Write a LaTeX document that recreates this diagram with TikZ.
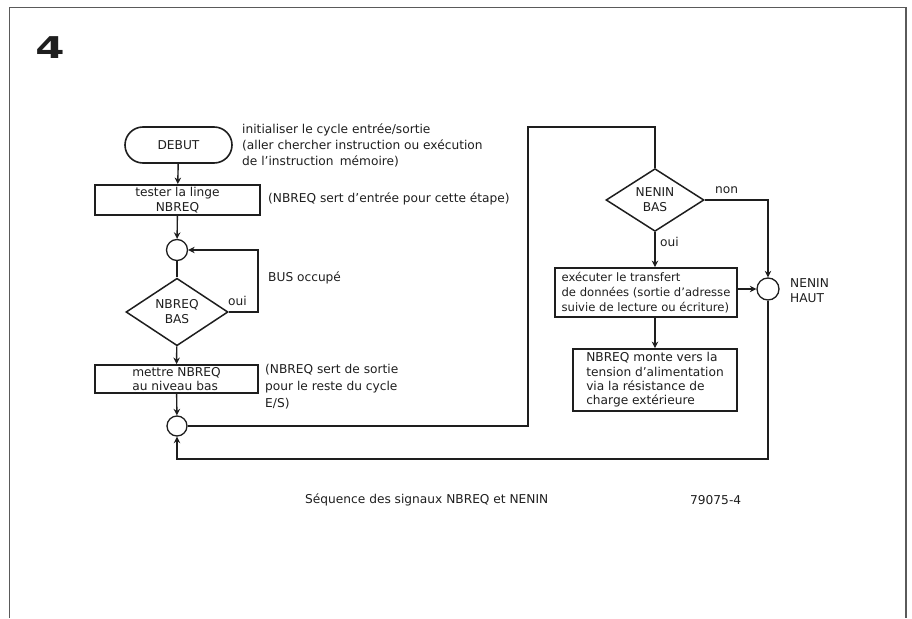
\documentclass[tikz,border=0pt]{standalone}
\usepackage{fontspec}
\setmainfont{DejaVu Sans}
\usetikzlibrary{arrows.meta,shapes.geometric,shapes.misc}
\definecolor{ink}{HTML}{1E1E1E}
\definecolor{framegray}{HTML}{5A5A5A}
\tikzset{
  txt/.style={font=\fontsize{12.2}{15}\selectfont, text=ink, inner sep=0pt},
  boxed/.style={draw=ink, line width=1.9pt, rectangle, inner sep=0pt, txt},
  startstop/.style={draw=ink, line width=1.6pt, rounded rectangle, inner sep=0pt, txt},
  junction/.style={draw=ink, line width=1.3pt, circle, inner sep=0pt},
  decision/.style={draw=ink, line width=1.5pt, diamond, inner sep=0pt, txt, align=center},
  link/.style={draw=ink, line width=1.4pt},
  arr/.style={link, -{Stealth[length=6.5pt,width=6.5pt]}},
  framed/.style={draw=framegray, line width=1.6pt}
}
\begin{document}
\begin{tikzpicture}[x=1pt,y=-1pt]
\useasboundingbox (0,0) rectangle (912,618);
\draw[framed] (9.5,618) -- (9.5,7.5) -- (906,7.5) -- (906,618);
\node[txt, font=\fontsize{30}{30}\selectfont\bfseries, xscale=1.4] (fig) at (50,48) {4};

% left column
\node[startstop, minimum width=107pt, minimum height=36pt] (debut) at (178.5,145) {DEBUT};
\node[boxed, minimum width=165pt, minimum height=30pt, align=center] (b1) at (177.5,200) {tester la linge\\NBREQ};
\node[junction, minimum size=21pt] (c1) at (177,250) {};
\node[decision, minimum width=102pt, minimum height=57pt] (d1) at (177,312) {NBREQ\\BAS};
\node[boxed, minimum width=163pt, minimum height=28pt, align=left, font=\fontsize{12.2}{14}\selectfont] (b2) at (176.5,379) {mettre NBREQ\\au niveau bas};
\node[junction, minimum size=20pt] (c2) at (177,426) {};

% right column
\node[decision, minimum width=98pt, minimum height=58pt] (d2) at (655,200) {NENIN\\BAS};
\node[boxed, minimum width=182pt, minimum height=49pt, align=left, font=\fontsize{11.6}{15}\selectfont] (b3) at (646,292.5) {exécuter le transfert\\de données (sortie d'adresse\\suivie de lecture ou écriture)};
\node[junction, minimum size=22pt] (c3) at (768,289) {};
\node[boxed, minimum width=164pt, minimum height=62pt, align=left, font=\fontsize{12.2}{14.3}\selectfont] (b4) at (655,380) {NBREQ monte vers la\\tension d'alimentation\\via la résistance de\\charge extérieure};

% helper coordinates
\coordinate (l1) at (258,250);
\coordinate (l2) at (528,127);
\coordinate (l3) at (768,459);

% connectors
\draw[arr] (debut) -- (b1);
\draw[arr] (b1) -- (c1);
\draw[link] (c1) -- (d1);
\draw[arr] (d1.east) -| (l1) -- (c1.east);
\draw[arr] (d1) -- (b2);
\draw[arr] (b2) -- (c2);
\draw[link] (c2.east) -| (l2) -| (d2.north);
\draw[arr] (d2.east) -| (c3.north);
\draw[arr] (d2.south) -- (d2.south |- b3.north);
\draw[arr] (b3.east |- c3.west) -- (c3.west);
\draw[arr] (b3.south -| b4.north) -- (b4.north);
\draw[arr] (c3.south) -- (l3) -| (c2.south);

% labels
\node[txt, anchor=west] (oui1) at (228,301) {oui};
\node[txt, anchor=west] (bus) at (268,278) {BUS occupé};
\node[txt, anchor=west] (non) at (715,190) {non};
\node[txt, anchor=west] (oui2) at (660,242) {oui};
\node[txt, anchor=west, align=left] (haut) at (790,290.5) {NENIN\\HAUT};

% comments
\node[txt, anchor=west, align=left, font=\fontsize{12.2}{16}\selectfont] (com1) at (242,145) {initialiser le cycle entrée/sortie\\(aller chercher instruction ou exécution\\de l'instruction\enspace mémoire)};
\node[txt, anchor=west] (com2) at (268,199) {(NBREQ sert d'entrée pour cette étape)};
\node[txt, anchor=west, align=left, font=\fontsize{12.2}{17}\selectfont] (com3) at (265,387) {(NBREQ sert de sortie\\pour le reste du cycle\\E/S)};

% caption
\node[txt, anchor=west] (cap) at (305,500) {Séquence des signaux NBREQ et NENIN};
\node[txt, anchor=west] (num) at (690,500) {79075-4};
\end{tikzpicture}
\end{document}
